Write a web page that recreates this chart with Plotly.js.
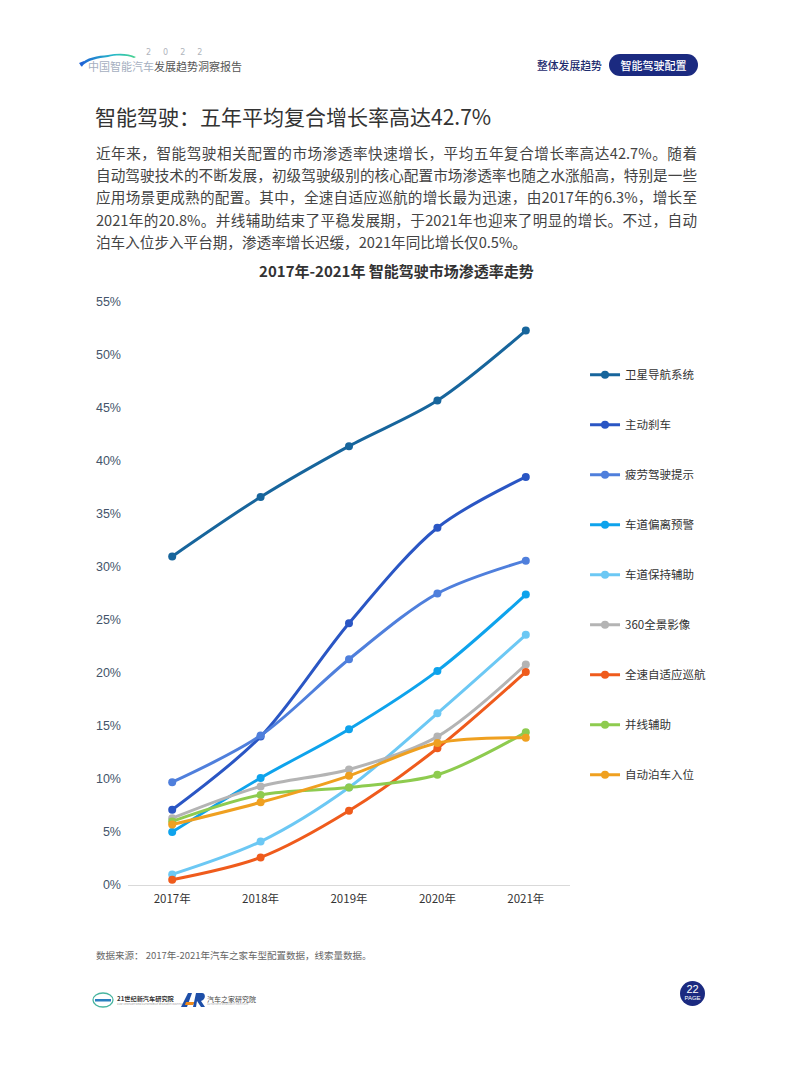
<!DOCTYPE html>
<html>
<head>
<meta charset="utf-8">
<script src="https://cdn.plot.ly/plotly-3.0.1.min.js"></script>
<style>
  html, body { margin:0; padding:0; background:#fff; }
  body { width:793px; height:1077px; position:relative; overflow:hidden;
         font-family:"Noto Sans CJK SC","Noto Sans",sans-serif; }
  .abs { position:absolute; white-space:nowrap; }
  .para div { width:601px; text-align:justify; text-align-last:justify; height:22.2px; line-height:22.2px; }
  .para div.last { text-align-last:left; }
</style>
</head>
<body>
<!-- header -->
<svg class="abs" style="left:76px;top:48px" width="70" height="22">
  <defs>
    <linearGradient id="g1" x1="0" x2="1" y1="0" y2="0">
      <stop offset="0" stop-color="#1f63d6"/>
      <stop offset="0.6" stop-color="#27b9c8"/>
      <stop offset="1" stop-color="#49d38d"/>
    </linearGradient>
  </defs>
  <path d="M4 17 C10 9, 22 8, 32 7 C42 5, 52 5, 60 9 L58 10 C50 7, 40 7, 32 9 C22 10, 12 12, 6 18 Z" fill="url(#g1)"/>
  <path d="M3 15 L8 13 L6 19 Z" fill="#1f63d6"/>
</svg>
<div class="abs" style="left:146px;top:48px;font-size:8px;color:#b0b4bc;letter-spacing:12px;font-family:'DejaVu Sans'">2022</div>
<div class="abs" style="left:88px;top:59px;font-size:11px;line-height:14px;"><span style="color:#a6afbf">中国智能汽车</span><span style="color:#555">发展趋势洞察报告</span></div>
<div class="abs" style="left:537px;top:58px;font-size:10.8px;line-height:14px;color:#1d2b6e;font-weight:500">整体发展趋势</div>
<div class="abs" style="left:609px;top:54px;width:89px;height:22px;border-radius:11px;background:#1b2a80;color:#fff;font-size:11px;line-height:22px;text-align:center;font-weight:500">智能驾驶配置</div>

<!-- heading and paragraph -->
<div class="abs" style="left:95px;top:102px;font-size:21px;line-height:28px;color:#333">智能驾驶：五年平均复合增长率高达42.7%</div>
<div class="abs para" style="left:96px;top:142px;font-size:14.6px;color:#444">
  <div>近年来，智能驾驶相关配置的市场渗透率快速增长，平均五年复合增长率高达42.7%。随着</div>
  <div>自动驾驶技术的不断发展，初级驾驶级别的核心配置市场渗透率也随之水涨船高，特别是一些</div>
  <div>应用场景更成熟的配置。其中，全速自适应巡航的增长最为迅速，由2017年的6.3%，增长至</div>
  <div>2021年的20.8%。并线辅助结束了平稳发展期，于2021年也迎来了明显的增长。不过，自动</div>
  <div class="last">泊车入位步入平台期，渗透率增长迟缓，2021年同比增长仅0.5%。</div>
</div>

<div id="chart" class="abs" style="left:0;top:255px;width:793px;height:680px"></div>

<div class="abs" style="left:96px;top:948px;font-size:9.5px;line-height:14px;color:#666">数据来源： 2017年-2021年汽车之家车型配置数据，线索量数据。</div>

<!-- footer logos -->
<svg class="abs" style="left:91px;top:991px" width="24" height="20">
  <ellipse cx="12" cy="9" rx="10" ry="7" fill="none" stroke="#49b5a0" stroke-width="1.3"/>
  <rect x="4" y="8" width="16" height="2.5" fill="#2a7fbf"/>
</svg>
<div class="abs" style="left:117px;top:995px;font-size:6.2px;line-height:8px;color:#333;font-weight:700">21世纪新汽车研究院</div>
<div class="abs" style="left:117px;top:1003px;font-size:2.6px;line-height:3px;color:#999">21ST CENTURY NEW AUTOMOBILE RESEARCH INSTITUTE</div>
<svg class="abs" style="left:180px;top:992px" width="26" height="16">
  <path d="M1 15 L8 1 L12 1 L7 15 Z" fill="#1e4fa8"/>
  <path d="M6 10 L15 10 L13 13 L5 13 Z" fill="#f08a1a"/>
  <path d="M13 15 L16 1 L22 1 C26 1, 26 8, 21 9 L25 15 L21 15 L17 9 L16 15 Z" fill="#1e4fa8"/>
</svg>
<div class="abs" style="left:207px;top:995px;font-size:7px;line-height:8px;color:#444">汽车之家研究院</div>
<div class="abs" style="left:207px;top:1003px;font-size:2.6px;line-height:3px;color:#aaa">AUTOHOME RESEARCH INSTITUTE</div>
<div class="abs" style="left:680px;top:981px;width:25px;height:25px;border-radius:50%;background:#1b2a80;color:#fff;text-align:center;">
  <div style="font-size:11px;line-height:11px;margin-top:3px;font-family:'Liberation Sans Narrow','Liberation Sans';">22</div>
  <div style="font-size:6px;line-height:7px;font-family:'Liberation Sans Narrow','Liberation Sans';">PAGE</div>
</div>

<script>
const years = ['2017年','2018年','2019年','2020年','2021年'];
const seriesNames = ['卫星导航系统','主动刹车','疲劳驾驶提示','车道偏离预警','车道保持辅助','360全景影像','全速自适应巡航','并线辅助','自动泊车入位'];
const navSystem      = [31.0, 36.6, 41.4, 45.7, 52.3];
const activeBrake    = [7.1, 14.0, 24.7, 33.7, 38.5];
const fatigueAlert   = [9.7, 14.1, 21.3, 27.5, 30.6];
const laneDeparture  = [5.0, 10.1, 14.7, 20.2, 27.4];
const laneKeeping    = [1.0, 4.1, 9.2, 16.2, 23.6];
const view360        = [6.3, 9.3, 10.9, 14.0, 20.8];
const fullSpeedACC   = [0.5, 2.6, 7.0, 12.9, 20.1];
const laneChange     = [6.0, 8.5, 9.2, 10.4, 14.4];
const autoParking    = [5.7, 7.8, 10.3, 13.4, 13.9];
const seriesValues = [navSystem, activeBrake, fatigueAlert, laneDeparture, laneKeeping, view360, fullSpeedACC, laneChange, autoParking];
const colors = ['#17659c','#2a56c4','#4f7fdc','#0ea3ec','#6cc8f4','#b4b4b4','#ef5b1c','#8ecb4f','#efa020'];
const yTicks = [0,5,10,15,20,25,30,35,40,45,50,55];

const traces = seriesNames.map((n, i) => ({
  type: 'scatter', mode: 'lines+markers', name: n, x: years, y: seriesValues[i],
  legendgroup: 'g' + i,
  line: {color: colors[i], width: 3, shape: 'spline', smoothing: 0.9},
  marker: {color: colors[i], size: 8},
  hoverinfo: 'skip'
}));

const layout = {
  width: 793, height: 680,
  margin: {l: 128, r: 223, t: 47, b: 50},
  paper_bgcolor: '#fff', plot_bgcolor: '#fff',
  font: {family: '"Noto Sans CJK SC", "Noto Sans", sans-serif', color: '#333', size: 12},
  title: {text: '<b>2017年-2021年 智能驾驶市场渗透率走势</b>', font: {size: 15, color: '#333'},
          xref: 'container', yref: 'container', x: 0.5, xanchor: 'center', y: 0.975, yanchor: 'middle'},
  xaxis: {type: 'category', range: [-0.5, 4.5], showgrid: false, zeroline: false,
          showline: true, linecolor: '#d9d9d9', linewidth: 1, ticks: '', ticklabelstandoff: 3,
          tickfont: {size: 11.5, color: '#333', family: '"Noto Sans CJK SC", sans-serif'}},
  yaxis: {range: [0, 55], tickvals: yTicks, ticktext: yTicks.map(v => v + '%'),
          showgrid: false, zeroline: false, showline: false, ticks: '', ticklabelstandoff: 6,
          tickfont: {size: 12.5, color: '#44546a', family: '"Liberation Sans", Arial, sans-serif'}},
  showlegend: true,
  legend: {x: 1.034, xanchor: 'left', y: 0.9, yanchor: 'top', orientation: 'v',
           tracegroupgap: 31, itemwidth: 30, font: {size: 11.5, color: '#333'},
           bgcolor: 'rgba(0,0,0,0)'}
};

Plotly.newPlot('chart', traces, layout, {displayModeBar: false, staticPlot: true});
</script>
</body>
</html>
